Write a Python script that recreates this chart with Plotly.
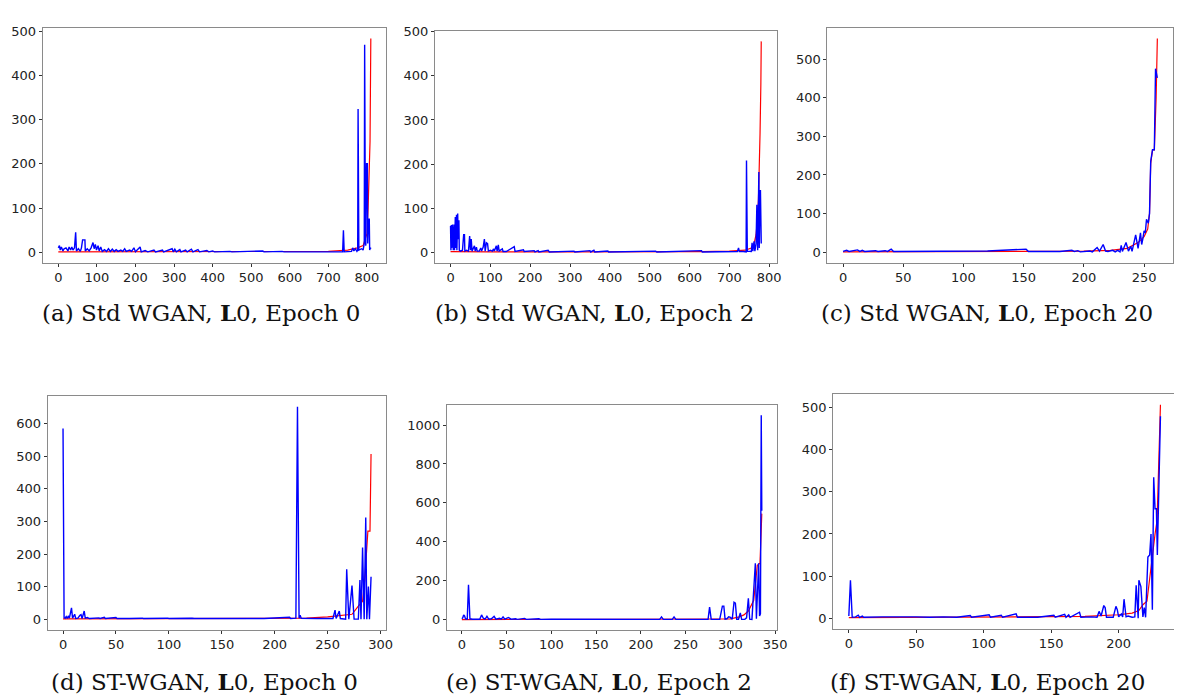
import plotly.graph_objects as go

# ---------------- data ----------------
# (a) Std WGAN, L0, Epoch 0
a_blue_x = [0, 3, 5, 8, 12, 15, 20, 25, 28, 32, 35, 38, 42, 45, 47, 52, 57, 60, 63, 69, 70, 75, 80, 85, 90, 93, 96, 99, 103, 106, 110, 114, 120, 125, 130, 135, 140, 145, 150, 155, 162, 167, 172, 176, 185, 190, 196, 200, 212, 215, 225, 232, 248, 252, 270, 273, 295, 298, 302, 306, 315, 318, 330, 334, 345, 349, 362, 366, 385, 390, 400, 405, 445, 450, 530, 533, 580, 585, 650, 700, 737, 739, 741, 760, 763, 766, 770, 774, 776, 777, 779, 786, 790, 793, 794, 796, 797, 799, 801, 802, 804, 806, 807, 809, 810]
a_blue_y = [10, 15, 5, 12, 3, 8, 10, 3, 12, 5, 12, 5, 10, 45, 3, 8, 2, 10, 28, 28, 3, 8, 3, 10, 22, 8, 18, 5, 15, 3, 12, 2, 6, 2, 8, 2, 7, 2, 6, 2, 5, 2, 8, 2, 5, 2, 10, 1, 12, 1, 4, 1, 5, 1, 5, 1, 8, 1, 7, 1, 6, 1, 5, 1, 7, 1, 6, 1, 4, 1, 3, 1, 2, 1, 3, 1, 2, 1, 1, 1, 1, 50, 1, 2, 10, 3, 8, 2, 5, 324, 5, 8, 5, 20, 469, 30, 15, 200, 200, 20, 75, 75, 5, 10, 8]
a_red_x = [0, 300, 650, 700, 750, 775, 790, 800, 803, 806, 808, 810]
a_red_y = [1, 1, 1, 2, 5, 10, 15, 42, 100, 218, 251, 483]

# (b) Std WGAN, L0, Epoch 2
b_blue_x = [0, 1, 2, 3, 5, 6, 7, 9, 10, 12, 13, 15, 16, 18, 19, 21, 22, 25, 30, 33, 35, 36, 40, 45, 48, 50, 52, 54, 58, 60, 62, 65, 67, 72, 76, 78, 82, 85, 87, 90, 93, 95, 100, 105, 108, 110, 115, 117, 120, 122, 130, 132, 140, 160, 162, 183, 185, 210, 212, 220, 222, 245, 248, 310, 312, 350, 352, 360, 362, 395, 397, 515, 518, 630, 632, 700, 720, 723, 725, 735, 742, 743, 745, 755, 757, 759, 762, 764, 767, 769, 771, 772, 774, 775, 777, 778, 780]
b_blue_y = [60, 5, 62, 10, 63, 35, 5, 63, 5, 80, 10, 85, 5, 88, 30, 73, 5, 3, 5, 40, 40, 3, 5, 3, 37, 5, 30, 3, 10, 15, 3, 12, 3, 3, 10, 3, 12, 30, 3, 22, 20, 3, 5, 3, 8, 3, 15, 3, 17, 3, 8, 2, 2, 13, 2, 6, 2, 4, 1, 4, 1, 5, 1, 3, 1, 4, 1, 5, 1, 3, 1, 3, 1, 4, 1, 3, 2, 10, 2, 2, 1, 208, 3, 2, 22, 3, 25, 3, 20, 108, 5, 50, 182, 10, 140, 140, 20]
b_red_x = [0, 100, 300, 600, 630, 700, 740, 755, 762, 767, 770, 773, 775, 777, 779, 780]
b_red_y = [2, 1, 1, 1, 2, 3, 5, 10, 20, 40, 70, 120, 180, 270, 380, 478]

# (c) Std WGAN, L0, Epoch 20
c_blue_x = [0, 3, 5, 12, 14, 16, 18, 27, 29, 35, 37, 40, 42, 50, 60, 62, 68, 70, 100, 120, 152, 154, 180, 190, 192, 195, 197, 205, 207, 211, 213, 216, 218, 220, 224, 226, 228, 230, 231, 232, 235, 237, 239, 240, 243, 245, 247, 248, 249, 250, 251, 252, 253.5, 254.5, 255.5, 257, 258.5, 259.5, 261]
c_blue_y = [2, 5, 2, 6, 2, 5, 2, 4, 2, 4, 2, 8, 2, 2, 3, 2, 3, 2, 2, 3, 8, 2, 2, 5, 2, 4, 1, 3, 1, 12, 3, 20, 3, 2, 5, 1, 5, 1, 18, 2, 25, 3, 15, 2, 45, 10, 50, 20, 35, 55, 50, 85, 75, 100, 235, 265, 265, 475, 451]
c_red_x = [0, 100, 150, 200, 222, 236, 245, 250, 253, 254.5, 255.5, 257, 258.5, 260, 261]
c_red_y = [1, 1, 2, 3, 5, 10, 25, 40, 60, 100, 230, 265, 265, 400, 553]

# (d) ST-WGAN, L0, Epoch 0
d_blue_x = [0, 1, 2, 3, 4, 5, 6, 8, 9, 11, 12, 14, 16, 17, 18, 20, 21, 23, 25, 28, 30, 34, 35, 39, 40, 50, 51, 62, 63, 75, 76, 99, 100, 122, 124, 150, 190, 214, 215, 220, 221.5, 223, 224, 225, 230, 240, 255, 257, 258, 261, 262, 267, 268, 270, 273, 275, 279, 280.5, 281.5, 283, 284.5, 286, 287, 288.5, 289.5, 291]
d_blue_y = [585, 5, 3, 8, 2, 10, 3, 35, 3, 15, 2, 3, 12, 14, 2, 25, 3, 5, 2, 3, 2, 4, 2, 6, 2, 5, 2, 4, 2, 3, 2, 3, 2, 3, 2, 2, 2, 6, 2, 3, 652, 3, 12, 3, 2, 2, 2, 28, 2, 25, 2, 0, 153, 0, 103, 0, 0, 120, 0, 220, 0, 312, 0, 100, 0, 130]
d_red_x = [0, 100, 200, 230, 250, 265, 273, 279, 283, 285, 288, 290, 291]
d_red_y = [1, 1, 2, 3, 7, 12, 15, 40, 55, 120, 270, 270, 507]

# (e) ST-WGAN, L0, Epoch 2
e_blue_x = [0, 1, 2, 3, 4, 6, 7.4, 9, 12, 15, 18, 20, 22, 24, 26, 28, 30, 33, 36, 38, 42, 44, 46, 48, 52, 55, 60, 62, 70, 72, 86, 88, 100, 120, 150, 200, 221, 223, 225, 235, 237, 239, 270, 275, 276.7, 278.5, 288, 291, 292.6, 294, 296, 298, 300, 302, 304, 305.5, 307, 309, 311, 312.5, 316, 318, 320, 321.5, 324, 327.8, 329, 330.7, 331.5, 332.5, 333.5, 334.4, 335]
e_blue_y = [5, 10, 25, 20, 5, 3, 180, 5, 3, 3, 5, 3, 25, 8, 3, 18, 3, 5, 18, 3, 8, 3, 15, 3, 12, 3, 5, 2, 7, 2, 5, 2, 3, 3, 3, 2, 2, 15, 2, 2, 15, 2, 2, 2, 65, 2, 2, 70, 70, 3, 5, 15, 12, 3, 90, 85, 3, 3, 35, 2, 2, 10, 110, 3, 2, 290, 5, 290, 290, 20, 30, 1050, 560]
e_red_x = [0, 100, 200, 250, 290, 300, 310, 315, 320, 326, 330, 333, 335]
e_red_y = [1, 1, 1, 2, 4, 5, 15, 25, 45, 100, 280, 290, 545]

# (f) ST-WGAN, L0, Epoch 20
f_blue_x = [0, 1.2, 2.5, 5, 7, 8, 10, 11, 25, 30, 32, 40, 50, 60, 70, 80, 90, 91, 104, 105, 113, 114, 124, 125, 140, 152, 153, 160, 161, 163, 164, 171, 172, 180, 184, 185.5, 187, 189, 190, 191, 196, 198, 199, 200, 202, 203, 204, 205.5, 207, 210, 212, 213, 214.5, 215, 216.5, 218, 219, 220, 221.7, 223, 224, 225, 226, 227, 228, 228.7, 230.5, 231]
f_blue_y = [5, 90, 2, 3, 7, 2, 5, 2, 3, 3, 4, 3, 3, 2, 3, 2, 6, 2, 8, 2, 7, 2, 10, 2, 2, 7, 2, 9, 2, 8, 2, 14, 2, 3, 2, 16, 5, 30, 25, 2, 2, 28, 20, 3, 10, 3, 45, 3, 5, 2, 3, 78, 0, 90, 75, 3, 25, 2, 145, 150, 200, 20, 335, 260, 260, 150, 470, 480]
f_red_x = [0, 100, 150, 175, 200, 210, 215, 218, 221, 222.4, 224, 227, 228.5, 229.8, 231]
f_red_y = [1, 2, 3, 4, 8, 12, 18, 32, 40, 80, 130, 200, 232, 406, 507]

captions = [
    "(a) Std WGAN, <b>L</b>0, Epoch 0",
    "(b) Std WGAN, <b>L</b>0, Epoch 2",
    "(c) Std WGAN, <b>L</b>0, Epoch 20",
    "(d) ST-WGAN, <b>L</b>0, Epoch 0",
    "(e) ST-WGAN, <b>L</b>0, Epoch 2",
    "(f) ST-WGAN, <b>L</b>0, Epoch 20",
]
x_dticks = [100, 100, 50, 50, 50, 50]
y_dticks = [100, 100, 100, 100, 200, 100]

series = [
    (a_blue_x, a_blue_y, a_red_x, a_red_y),
    (b_blue_x, b_blue_y, b_red_x, b_red_y),
    (c_blue_x, c_blue_y, c_red_x, c_red_y),
    (d_blue_x, d_blue_y, d_red_x, d_red_y),
    (e_blue_x, e_blue_y, e_red_x, e_red_y),
    (f_blue_x, f_blue_y, f_red_x, f_red_y),
]

# ---------------- layout geometry (pixels) ----------------
W, H = 1182, 700
boxes = [  # left, right, top, bottom
    (35, 382, 13, 250),
    (431, 776, 16, 250),
    (827, 1176, 13, 250),
    (40, 382, 385, 621),
    (443, 776, 394, 621),
    (833, 1179, 383, 620),
]
# caption anchor points (x centre, y of the text box middle)
cap_pos = [(195, 301), (592, 301), (988, 301), (198, 673), (597, 673), (989, 673)]

fig = go.Figure()
layout = dict(
    width=W, height=H, margin=dict(l=0, r=0, t=0, b=0),
    paper_bgcolor="white", plot_bgcolor="white", showlegend=False,
)


def pad_range(vals):
    lo, hi = min(vals), max(vals)
    d = hi - lo
    return [lo - 0.05 * d, hi + 0.05 * d]


annotations = []
for i, (bx, by, rx, ry) in enumerate(series):
    n = "" if i == 0 else str(i + 1)
    xa, ya = "x" + n, "y" + n
    fig.add_trace(go.Scatter(x=rx, y=ry, mode="lines", xaxis=xa, yaxis=ya,
                             line=dict(color="#ff0000", width=1.2), hoverinfo="skip"))
    fig.add_trace(go.Scatter(x=bx, y=by, mode="lines", xaxis=xa, yaxis=ya,
                             line=dict(color="#0000ff", width=1.4), hoverinfo="skip"))
    l, r, t, b = boxes[i]
    common = dict(showline=True, linecolor="#8a8a8a", linewidth=1, mirror=True,
                  ticks="outside", ticklen=3, tickcolor="#333333", tickwidth=1,
                  showgrid=False, zeroline=False, tick0=0,
                  tickfont=dict(family="DejaVu Sans", size=13, color="#222222"))
    layout["xaxis" + n] = dict(common, domain=[l / W, r / W], anchor=ya,
                               range=pad_range(bx + rx), dtick=x_dticks[i])
    layout["yaxis" + n] = dict(common, domain=[1 - b / H, 1 - t / H], anchor=xa,
                               range=pad_range(by + ry), dtick=y_dticks[i])
    cx, cy = cap_pos[i]
    annotations.append(dict(text=captions[i], x=cx / W, y=1 - cy / H, xref="paper", yref="paper",
                            xanchor="center", yanchor="middle", showarrow=False,
                            font=dict(family="DejaVu Serif", size=23, color="#111111")))

layout["annotations"] = annotations
fig.update_layout(**layout)
fig.write_html("out.html")
